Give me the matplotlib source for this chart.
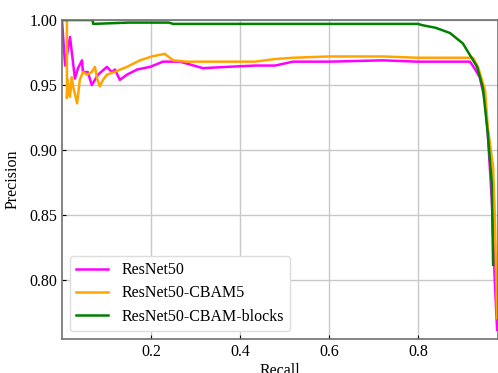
import matplotlib
matplotlib.use('Agg')
from matplotlib import pyplot as plt

# precision-recall points
recall_r50 = [0.0, 0.007, 0.018, 0.029, 0.036, 0.045, 0.047, 0.058, 0.067, 0.074, 0.081,
              0.101, 0.112, 0.119, 0.13, 0.146, 0.169, 0.198, 0.227, 0.265, 0.317,
              0.371, 0.434, 0.479, 0.519, 0.6, 0.72, 0.8, 0.917, 0.927, 0.939, 0.951,
              0.957, 0.966, 0.973, 0.978]
prec_r50 = [1.0, 0.965, 0.987, 0.955, 0.963, 0.969, 0.960, 0.960, 0.950, 0.954, 0.958,
            0.964, 0.960, 0.962, 0.954, 0.958, 0.962, 0.964, 0.968, 0.968, 0.963,
            0.964, 0.965, 0.965, 0.968, 0.968, 0.969, 0.968, 0.968, 0.963, 0.956, 0.938,
            0.913, 0.862, 0.798, 0.762]

recall_cbam5 = [0.0, 0.011, 0.011, 0.013, 0.018, 0.022, 0.025, 0.034, 0.040, 0.047, 0.056,
                0.067, 0.074, 0.079, 0.085, 0.092, 0.101, 0.117, 0.146, 0.175, 0.202,
                0.231, 0.25, 0.281, 0.317, 0.371, 0.434, 0.479, 0.519, 0.6, 0.72,
                0.8, 0.86, 0.924, 0.935, 0.951, 0.957, 0.969, 0.973, 0.978]
prec_cbam5 = [1.0, 1.0, 0.94, 0.954, 0.941, 0.956, 0.949, 0.936, 0.954, 0.960, 0.958,
              0.960, 0.964, 0.955, 0.949, 0.954, 0.958, 0.960, 0.964, 0.969, 0.972,
              0.974, 0.969, 0.968, 0.968, 0.968, 0.968, 0.970, 0.971, 0.972, 0.972,
              0.971, 0.971, 0.971, 0.964, 0.946, 0.918, 0.887, 0.848, 0.771]

recall_blocks = [0.0, 0.069, 0.070, 0.15, 0.157, 0.24, 0.25, 0.35, 0.36, 0.55, 0.6, 0.7,
                 0.8, 0.81, 0.84, 0.872, 0.901, 0.917, 0.933, 0.946, 0.957, 0.966, 0.969]
prec_blocks = [1.0, 1.0, 0.997, 0.998, 0.998, 0.998, 0.997, 0.997, 0.997, 0.997, 0.997, 0.997,
               0.997, 0.996, 0.994, 0.990, 0.982, 0.973, 0.964, 0.948, 0.913, 0.875, 0.812]

names = ['ResNet50', 'ResNet50-CBAM5', 'ResNet50-CBAM-blocks']
colors = ['#ff00ff', 'orange', 'green']

plt.rcParams['font.family'] = ['Liberation Serif', 'DejaVu Serif']
plt.rcParams['font.size'] = 11.5

fig = plt.figure(figsize=(4.98, 3.73), dpi=100)
ax = fig.add_axes([0.1245, 0.0912, 0.8755, 0.8552])

ax.plot(recall_r50, prec_r50, color=colors[0], lw=1.8, label=names[0])
ax.plot(recall_cbam5, prec_cbam5, color=colors[1], lw=1.8, label=names[1])
ax.plot(recall_blocks, prec_blocks, color=colors[2], lw=1.8, label=names[2])

ax.set_xlim(0.0, 0.98)
ax.set_ylim(0.755, 1.0)
ax.set_xticks([0.2, 0.4, 0.6, 0.8])
ax.set_yticks([0.80, 0.85, 0.90, 0.95, 1.00])
ax.tick_params(direction='in', length=3, labelsize=11.5)
ax.grid(color='#c8c8c8', lw=1)
for s in ax.spines.values():
    s.set_color('#707070')
    s.set_linewidth(1.2)

ax.set_xlabel('Recall', labelpad=2)
ax.set_ylabel('Precision', labelpad=6)
ax.legend(loc='lower left', fontsize=11.5, framealpha=1, edgecolor='#dddddd',
          borderaxespad=0.5, labelspacing=0.45)

fig.savefig('out.png', dpi=100)
